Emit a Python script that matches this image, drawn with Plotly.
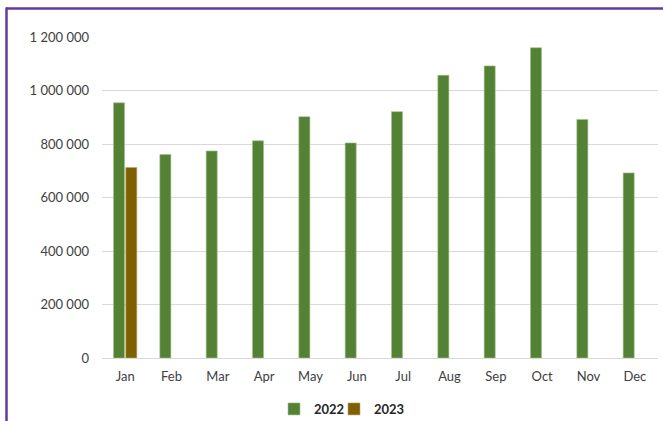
import plotly.graph_objects as go

months = ["Jan", "Feb", "Mar", "Apr", "May", "Jun", "Jul", "Aug", "Sep", "Oct", "Nov", "Dec"]
values_2022 = [954000, 761000, 774000, 812000, 902000, 804000, 921000, 1057000, 1092000, 1160000, 892000, 692000]
values_2023 = [712000, None, None, None, None, None, None, None, None, None, None, None]
y_ticks = [0, 200000, 400000, 600000, 800000, 1000000, 1200000]

W, H = 663, 421
L, R, T, B = 102, 5, 37, 63
pw, ph = W - L - R, H - T - B

def px_x(x):
    return (x - L) / pw

def px_y(y):
    return (H - B - y) / ph

fig = go.Figure()
fig.add_trace(go.Bar(x=months, y=values_2022, name="2022", legend="legend",
                     marker=dict(color="#548235", line=dict(color="#A3BF8B", width=0.6))))
fig.add_trace(go.Bar(x=months, y=values_2023, name="2023", legend="legend2",
                     marker=dict(color="#7F6000", line=dict(color="#BFA66A", width=0.6))))

font_family = "Lato, 'Open Sans', sans-serif"
legend_font = dict(family=font_family, size=13, color="#262626", weight="bold")

fig.update_layout(
    width=W, height=H,
    margin=dict(l=L, r=R, t=T, b=B, autoexpand=False),
    paper_bgcolor="white", plot_bgcolor="white",
    barmode="group", bargap=0.47, bargroupgap=0.1,
    separators=". ",
    font=dict(family=font_family, size=13, color="#404040"),
    showlegend=True,
    legend=dict(orientation="h", x=px_x(274), xanchor="left", y=px_y(409), yanchor="middle",
                font=legend_font, itemwidth=30, bgcolor="rgba(0,0,0,0)"),
    legend2=dict(orientation="h", x=px_x(334), xanchor="left", y=px_y(409), yanchor="middle",
                 font=legend_font, itemwidth=30, bgcolor="rgba(0,0,0,0)"),
    xaxis=dict(showgrid=False, showline=True, linecolor="#D9D9D9", linewidth=1,
               ticks="", ticklabelstandoff=6, tickfont=dict(size=13, color="#404040")),
    yaxis=dict(range=[0, 1200000], tickvals=y_ticks, tickformat=",d",
               showgrid=True, gridcolor="#D9D9D9", gridwidth=1,
               zeroline=False, showline=False, ticks="", ticklabelstandoff=12,
               tickfont=dict(size=13, color="#404040")),
    shapes=[
        dict(type="line", xref="paper", yref="paper",
             x0=px_x(6), x1=px_x(680), y0=px_y(8.5), y1=px_y(8.5),
             line=dict(color="#653A9E", width=2.5)),
        dict(type="line", xref="paper", yref="paper",
             x0=px_x(6.5), x1=px_x(6.5), y0=px_y(7.5), y1=px_y(440),
             line=dict(color="#653A9E", width=2.5)),
    ],
)

fig.write_html("out.html", config={"displayModeBar": False},
               post_script="document.body.style.margin='0px';document.body.style.overflow='hidden';")
